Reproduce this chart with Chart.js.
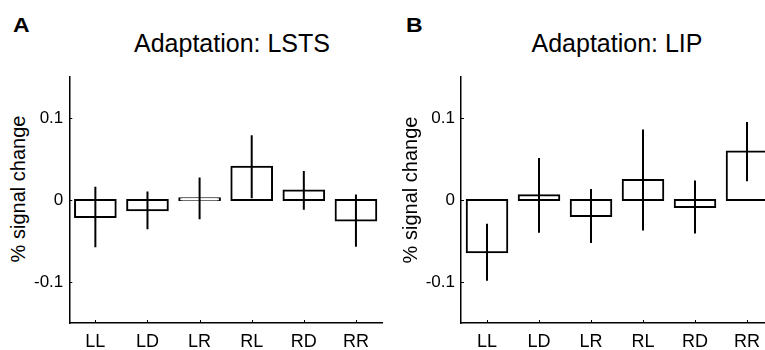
<!DOCTYPE html>
<html>
<head>
<meta charset="utf-8">
<script src="https://cdn.jsdelivr.net/npm/chart.js@4.4.1/dist/chart.umd.min.js"></script>
<style>
  html, body { margin: 0; padding: 0; background: #fff; overflow: hidden; width: 765px; height: 350px; }
  body { position: relative; font-family: "Liberation Sans", Arial, sans-serif; color: #000; }
  .panel-letter { position: absolute; font-weight: bold; font-size: 20px; line-height: 20px; transform: scaleX(1.15); transform-origin: left center; }
  .title { position: absolute; width: 300px; text-align: center; font-size: 25px; line-height: 30px; white-space: nowrap; }
  .ylabel { position: absolute; width: 200px; height: 24px; line-height: 24px; text-align: center; font-size: 20px; white-space: nowrap; transform: rotate(-90deg); }
  canvas { position: absolute; top: 0; }
</style>
</head>
<body>
<div class="panel-letter" style="left:13px;top:15px">A</div>
<div class="title" style="left:82px;top:28px">Adaptation: LSTS</div>
<div class="ylabel" style="left:-82px;top:177px">% signal change</div>
<canvas id="chartA" width="400" height="356" style="left:0px"></canvas>

<div class="panel-letter" style="left:406px;top:15px">B</div>
<div class="title" style="left:467px;top:28px">Adaptation: LIP</div>
<div class="ylabel" style="left:310px;top:178px">% signal change</div>
<canvas id="chartB" width="400" height="356" style="left:380px"></canvas>

<script>
const categories = ['LL', 'LD', 'LR', 'RL', 'RD', 'RR'];

// panel A - LSTS
const lstsMeans = [-0.0207, -0.0126, 0.002, 0.0405, 0.0117, -0.0251];
const lstsErrors = [0.037, 0.023, 0.0255, 0.0385, 0.0237, 0.0318];

// panel B - LIP
const lipMeans = [-0.0638, 0.0057, -0.0195, 0.0244, -0.0085, 0.059];
const lipErrors = [0.0348, 0.0455, 0.0329, 0.0616, 0.0323, 0.0362];

const yTicks = [-0.1, 0, 0.1];
const yMin = -0.15;
const yMax = 0.15;

const fontFamily = '"Liberation Sans", Arial, sans-serif';

// matlab style ticks pointing into the plot
const inwardTicks = {
  id: 'inwardTicks',
  afterDraw(chart) {
    const { ctx, chartArea, scales: { x, y } } = chart;
    ctx.save();
    ctx.strokeStyle = '#000';
    ctx.lineWidth = 1;
    ctx.beginPath();
    x.ticks.forEach((t, i) => {
      const px = Math.round(x.getPixelForTick(i)) + 0.5;
      ctx.moveTo(px, chartArea.bottom);
      ctx.lineTo(px, chartArea.bottom - 3);
    });
    y.ticks.forEach((t, i) => {
      const py = Math.round(y.getPixelForTick(i)) + 0.5;
      ctx.moveTo(chartArea.left, py);
      ctx.lineTo(chartArea.left + 3, py);
    });
    ctx.stroke();
    ctx.restore();
  }
};

function makeChart(id, means, errors, padding) {
  const ctx = document.getElementById(id).getContext('2d');
  return new Chart(ctx, {
    type: 'bar',
    data: {
      labels: categories,
      datasets: [
        {
          // error bars as thin floating bars
          data: means.map((m, i) => [m - errors[i], m + errors[i]]),
          backgroundColor: '#000',
          borderWidth: 0,
          barThickness: 2,
          inflateAmount: 0,
          grouped: false,
          order: 0
        },
        {
          data: means,
          backgroundColor: '#fff',
          borderColor: '#000',
          borderWidth: 2,
          borderSkipped: false,
          inflateAmount: 1, // so the outline sits centred on the bar edges
          categoryPercentage: 1,
          barPercentage: 0.78,
          grouped: false,
          order: 1
        }
      ]
    },
    options: {
      responsive: false,
      animation: false,
      layout: { padding: padding },
      plugins: {
        legend: { display: false },
        tooltip: { enabled: false }
      },
      scales: {
        x: {
          afterFit: (s) => { s.height = 30; },
          grid: { display: false, drawTicks: false },
          border: { display: true, color: '#000', width: 1.5 },
          ticks: { color: '#000', padding: 8, font: { family: fontFamily, size: 18 } }
        },
        y: {
          min: yMin,
          max: yMax,
          afterBuildTicks: (s) => { s.ticks = yTicks.map(v => ({ value: v })); },
          afterFit: (s) => { s.width = 36; },
          grid: { display: false, drawTicks: false },
          border: { display: true, color: '#000', width: 1.5 },
          ticks: {
            color: '#000',
            padding: 6,
            font: { family: fontFamily, size: 17 },
            callback: (v) => String(v)
          }
        }
      }
    },
    plugins: [inwardTicks]
  });
}

makeChart('chartA', lstsMeans, lstsErrors, { left: 33.3, right: 18, top: 77, bottom: 3 });
makeChart('chartB', lipMeans, lipErrors, { left: 45, right: 7, top: 77, bottom: 3 });
</script>
</body>
</html>
